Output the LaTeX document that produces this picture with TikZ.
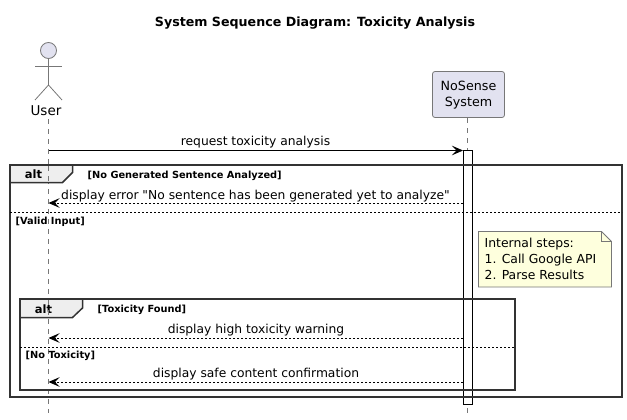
\documentclass[tikz,border=0pt]{standalone}
\usepackage{fontspec}
\setmainfont{DejaVu Sans}[Ligatures=TeXOff]
\usetikzlibrary{arrows.meta}

\definecolor{partfill}{HTML}{E2E2F0}
\definecolor{partline}{HTML}{777777}
\definecolor{notefill}{HTML}{FEFFDD}
\definecolor{tabfill}{HTML}{EEEEEE}

\tikzset{
  lifeline/.style={draw=partline, line width=0.7pt, dash pattern=on 5pt off 5pt},
  call/.style={draw=black, line width=0.8pt, -{Stealth[length=11pt,width=9.5pt,inset=4.5pt]}},
  reply/.style={call, dash pattern=on 2pt off 2pt},
  msglabel/.style={font=\fontsize{12.3}{12.3}\selectfont, text=black, inner sep=0pt, anchor=base},
  guard/.style={font=\bfseries\fontsize{9.8}{9.8}\selectfont, text=black, inner sep=0pt, anchor=base west},
  framebox/.style={draw=black!80, line width=2pt},
  tabbox/.style={draw=black!80, line width=1.5pt, fill=tabfill},
  divider/.style={draw=black, line width=0.7pt, dash pattern=on 2pt off 2pt},
  actorline/.style={draw=partline, line width=0.8pt}
}

\begin{document}
\begin{tikzpicture}[x=1pt, y=-1pt]
\useasboundingbox (0,0) rectangle (627,420);

% Title
\node[font=\bfseries\fontsize{12.65}{12.65}\selectfont, inner sep=0pt] (title) at (315,23.5) {System Sequence Diagram: Toxicity Analysis};

% Participants
\node[circle, draw=partline, fill=partfill, line width=0.8pt, minimum size=16pt, inner sep=0pt] (head) at (48.5,50.5) {};
\coordinate (hip) at (48.5,85);
\draw[actorline] (head.south) -- (hip);
\draw[actorline] (35,66) -- (62,66);
\draw[actorline] (35,100) -- (hip) -- (62,100);
\node[font=\fontsize{13.5}{13.5}\selectfont, inner sep=0pt] (user) at (46,111) {User};

\node[draw=partline, fill=partfill, rounded corners=2.5pt, line width=0.8pt, minimum width=72pt, minimum height=46pt, inner sep=0pt, align=center, font=\fontsize{12.7}{16}\selectfont] (system) at (468.5,94.5) {\strut NoSense\\System};

% Lifelines, with the points where the messages meet them
\coordinate (userEnd) at (48.5,413);
\coordinate (systemEnd) at (467.5,413);
\draw[lifeline] (48.5,119) -- (userEnd);
\draw[lifeline] (467.5,118) -- (systemEnd);

\foreach \i\y in {request/150.5, error/203, high/338, safe/382} {
  \coordinate (user-\i) at (48.5,\y);
  \coordinate (system-\i) at (463,\y);
}

% Activation bar
\node[draw=black, fill=white, line width=0.8pt, minimum width=9.5pt, minimum height=254pt, inner sep=0pt] (bar) at (468,277.5) {};

% Outer alt
\draw[framebox] (10,165) rectangle (622,397);
\draw[tabbox] (10,165) -- (72.5,165) -- (72.5,172.5) -- (62.5,182.5) -- (10,182.5) -- cycle;
\node[font=\bfseries\fontsize{11.5}{11.5}\selectfont, inner sep=0pt] (alta) at (33.5,174) {alt};
\node[guard] (guarda) at (87.5,178) {[No Generated Sentence Analyzed]};
\draw[divider] (10,212.5) -- (622,212.5);
\node[guard] (guardb) at (15.5,224) {[Valid Input]};

% Inner alt
\draw[framebox] (20,299) rectangle (515,390);
\draw[tabbox] (20,299) -- (82.5,299) -- (82.5,308) -- (72.5,317.5) -- (20,317.5) -- cycle;
\node[font=\bfseries\fontsize{11.5}{11.5}\selectfont, inner sep=0pt] (altb) at (43.5,309) {alt};
\node[guard] (guardc) at (97.5,312) {[Toxicity Found]};
\draw[divider] (20,347.5) -- (515,347.5);
\node[guard] (guardd) at (25.5,358.5) {[No Toxicity]};

% Lifeline again over the tabs
\draw[lifeline] (48.5,166) -- (48.5,182);
\draw[lifeline] (48.5,300) -- (48.5,317);

% Messages
\draw[call] (user-request) -- (system-request);
\draw[reply] (system-error) -- (user-error);
\draw[reply] (system-high) -- (user-high);
\draw[reply] (system-safe) -- (user-safe);

\node[msglabel] (lblrequest) at (255.5,146) {request toxicity analysis};
\node[msglabel] (lblerror) at (255.5,199.5) {display error "No sentence has been generated yet to analyze"};
\node[msglabel] (lblhigh) at (256,333.5) {display high toxicity warning};
\node[msglabel] (lblsafe) at (256,377.5) {display safe content confirmation};

% Note
\draw[draw=partline, fill=notefill, line width=0.8pt] (478.5,231.5) -- (601.5,231.5) -- (611.5,241.5) -- (611.5,287) -- (478.5,287) -- cycle;
\draw[draw=partline, line width=0.8pt] (601.5,231.5) -- (601.5,241.5) -- (611.5,241.5);
\node[font=\fontsize{12.4}{16}\selectfont, align=left, anchor=north west, inner sep=0pt] (note) at (484.5,238) {Internal steps:\\1. Call Google API\\2. Parse Results};
\end{tikzpicture}
\end{document}
